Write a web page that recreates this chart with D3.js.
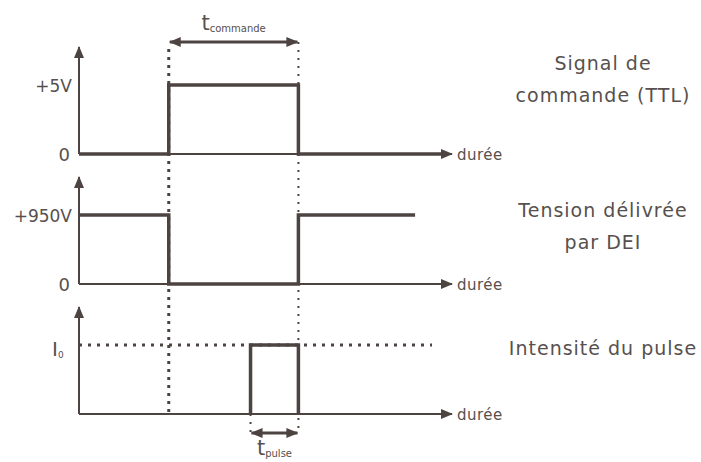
<!DOCTYPE html>
<html>
<head>
<meta charset="utf-8">
<script src="https://cdn.jsdelivr.net/npm/d3@7"></script>
<style>
  body { margin: 0; background: #fff; }
  svg text { font-family: "DejaVu Sans", sans-serif; fill: #57504e; }
</style>
</head>
<body>
<svg width="701" height="462"></svg>
<script>
// temps (unités arbitraires) : début/fin de commande, début du pulse
const tOn = 9, tOff = 22, tPulse = 17.2, tEnd = 37, tTensionEnd = 33.7;

const panels = ["ttl", "tension", "intensite"];
const levelLabels = ["+5V", "+950V", "I"];
const levelMax = [5, 950, 1];
const titles = [["Signal de", "commande (TTL)"], ["Tension délivrée", "par DEI"], ["Intensité du pulse"]];

const ttl = [[0, 0], [tOn, 0], [tOn, 5], [tOff, 5], [tOff, 0], [tEnd, 0]];
const tension = [[0, 950], [tOn, 950], [tOn, 0], [tOff, 0], [tOff, 950], [tTensionEnd, 950]];
const intensite = [[tPulse, 0], [tPulse, 1], [tOff, 1], [tOff, 0]];
const signals = [ttl, tension, intensite];

const ink = "#4d4442";
const svg = d3.select("svg");

const x = d3.scaleLinear().domain([0, tEnd]).range([79, 448]);
const baselines = [154, 284, 414];
const titleTop = [70, 217, 355]; // ligne de base du 1er mot de chaque titre
const ys = baselines.map((b, i) => d3.scaleLinear().domain([0, levelMax[i]]).range([b, b - 69]));

const defs = svg.append("defs");
defs.append("marker")
    .attr("id", "head")
    .attr("viewBox", "0 -5 12 10")
    .attr("refX", 11)
    .attr("refY", 0)
    .attr("markerWidth", 12)
    .attr("markerHeight", 10)
    .attr("markerUnits", "userSpaceOnUse")
    .attr("orient", "auto-start-reverse")
  .append("path")
    .attr("d", "M0,-5L12,0L0,5Z")
    .attr("fill", ink);

const line = d3.line();

// lignes pointillées verticales
const dots = svg.append("g").attr("fill", "none").attr("stroke", ink);
dots.append("line")
    .attr("x1", x(tOn)).attr("x2", x(tOn))
    .attr("y1", 49).attr("y2", baselines[2])
    .attr("stroke-width", 3).attr("stroke-dasharray", "3,5");
dots.append("line")
    .attr("x1", x(tOff)).attr("x2", x(tOff))
    .attr("y1", 42).attr("y2", 433)
    .attr("stroke-width", 2).attr("stroke-dasharray", "2,6");
dots.append("line")
    .attr("x1", x(tPulse)).attr("x2", x(tPulse))
    .attr("y1", baselines[2]).attr("y2", 433)
    .attr("stroke-width", 2).attr("stroke-dasharray", "2,6");
// niveau I0
dots.append("line")
    .attr("x1", x(0)).attr("x2", 432)
    .attr("y1", ys[2](1)).attr("y2", ys[2](1))
    .attr("stroke-width", 3).attr("stroke-dasharray", "3,6");

panels.forEach((p, i) => {
  const g = svg.append("g").attr("class", p);
  const b = baselines[i];

  // axes
  g.append("path")
      .attr("d", line([[x(0), b], [x(0), b - 107]]))
      .attr("stroke", ink).attr("stroke-width", 2)
      .attr("marker-end", "url(#head)");
  g.append("path")
      .attr("d", line([[x(0), b], [x(tEnd) + 4, b]]))
      .attr("stroke", ink).attr("stroke-width", 2)
      .attr("marker-end", "url(#head)");

  // signal
  g.append("path")
      .attr("d", line(signals[i].map(d => [x(d[0]), ys[i](d[1])])))
      .attr("fill", "none")
      .attr("stroke", ink)
      .attr("stroke-width", 3.5)
      .attr("stroke-linejoin", "miter");

  g.append("text")
      .attr("x", x(tEnd) + 9).attr("y", b + 6)
      .attr("font-size", 15)
      .attr("letter-spacing", 0.5)
      .text("durée");

  if (i < 2) {
    g.append("text")
        .attr("x", 70).attr("y", b + 7)
        .attr("text-anchor", "end").attr("font-size", 18)
        .text("0");
    g.append("text")
        .attr("x", 72).attr("y", ys[i](levelMax[i]) + 7)
        .attr("text-anchor", "end").attr("font-size", 17)
        .text(levelLabels[i]);
  } else {
    const t = g.append("text")
        .attr("x", 52).attr("y", ys[i](1) + 11)
        .attr("font-size", 20);
    t.append("tspan").text(levelLabels[i]);
    t.append("tspan").attr("font-size", 9).attr("dy", 2).text("0");
  }

  const tt = g.append("text")
      .attr("text-anchor", "middle")
      .attr("font-size", 19)
      .attr("letter-spacing", 1);
  titles[i].forEach((s, k) => {
    tt.append("tspan").attr("x", 603).attr("y", titleTop[i] + k * 32).text(s);
  });
});

// durées t_commande et t_pulse
const spans = [
  { from: tOn, to: tOff, y: 42, label: "commande", ty: 30 },
  { from: tPulse, to: tOff, y: 433, label: "pulse", ty: 455 }
];
spans.forEach(s => {
  svg.append("path")
      .attr("d", line([[x(s.from) + 1, s.y], [x(s.to) - 1, s.y]]))
      .attr("stroke", ink).attr("stroke-width", 3)
      .attr("marker-start", "url(#head)")
      .attr("marker-end", "url(#head)");
  const t = svg.append("text")
      .attr("x", (x(s.from) + x(s.to)) / 2)
      .attr("y", s.ty)
      .attr("text-anchor", "middle")
      .attr("font-size", 21);
  t.append("tspan").text("t");
  t.append("tspan").attr("font-size", 10).attr("dy", 2).text(s.label);
});
</script>
</body>
</html>
